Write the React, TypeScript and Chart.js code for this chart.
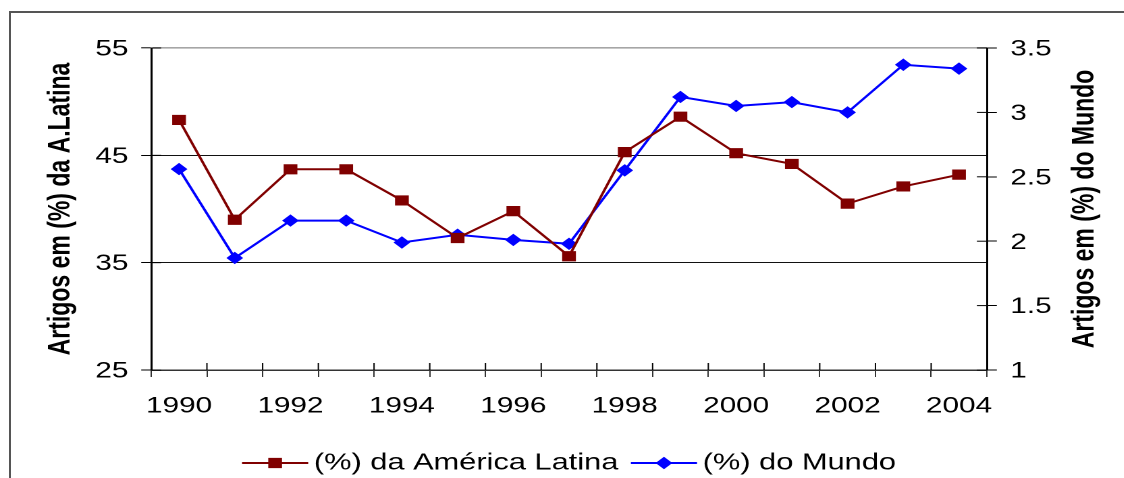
import React, { useEffect, useRef } from 'react';
import { Chart, registerables } from 'chart.js';

Chart.register(...registerables);

// ---- data ----
const years = ['1990', '1991', '1992', '1993', '1994', '1995', '1996', '1997', '1998', '1999', '2000', '2001', '2002', '2003', '2004'];
const latinAmericaShare = [48.3, 39.0, 43.7, 43.7, 40.8, 37.3, 39.8, 35.6, 45.3, 48.6, 45.2, 44.2, 40.5, 42.1, 43.2];
const worldShare = [2.56, 1.87, 2.16, 2.16, 1.99, 2.05, 2.01, 1.98, 2.55, 3.12, 3.05, 3.08, 3.0, 3.37, 3.34];
const leftAxisRange = [25, 55];
const leftAxisStep = 10;
const rightAxisRange = [1, 3.5];
const rightAxisStep = 0.5;
const leftAxisTitle = 'Artigos em (%) da A.Latina';
const rightAxisTitle = 'Artigos em (%) do Mundo';
const latinAmericaLabel = '(%) da América Latina';
const worldLabel = '(%) do Mundo';

// ---- styling ----
const SX = 1.35; // horizontal stretch of the original picture
const CANVAS_W = 833;
const CANVAS_H = 478;
const FONT = '"Liberation Sans", Arial, Helvetica, sans-serif';
const RED = '#800000';
const BLUE = '#0000FF';
const SQUARE_R = 6.5;
const DIAMOND_R = 5.5;
const Y_TICK = 7.4;
const X_TICK = 7;

function drawMarker(ctx: CanvasRenderingContext2D, style: string, x: number, y: number, color: string) {
  ctx.save();
  ctx.fillStyle = color;
  ctx.strokeStyle = color;
  ctx.lineWidth = 1;
  ctx.beginPath();
  if (style === 'rect') {
    const s = SQUARE_R * Math.SQRT1_2;
    ctx.rect(x - s, y - s, 2 * s, 2 * s);
  } else {
    const r = DIAMOND_R;
    ctx.moveTo(x - r, y);
    ctx.lineTo(x, y - r);
    ctx.lineTo(x + r, y);
    ctx.lineTo(x, y + r);
    ctx.closePath();
  }
  ctx.fill();
  ctx.stroke();
  ctx.restore();
}

const extrasPlugin = {
  id: 'extras',
  afterDraw(chart: any) {
    const { ctx, chartArea, scales } = chart;
    ctx.save();
    ctx.strokeStyle = '#000';
    ctx.lineWidth = 1;
    const line = (x1: number, y1: number, x2: number, y2: number) => {
      ctx.beginPath();
      ctx.moveTo(x1, y1);
      ctx.lineTo(x2, y2);
      ctx.stroke();
    };
    // inner halves of the crossing tick marks
    const xs = scales.x;
    for (let i = 0; i <= years.length; i++) {
      const px = xs.getPixelForValue(i - 0.5);
      line(px, chartArea.bottom - X_TICK, px, chartArea.bottom);
    }
    scales.y.ticks.forEach((t: any) => {
      const py = scales.y.getPixelForValue(t.value);
      line(chartArea.left, py, chartArea.left + Y_TICK, py);
    });
    scales.y1.ticks.forEach((t: any) => {
      const py = scales.y1.getPixelForValue(t.value);
      line(chartArea.right - Y_TICK, py, chartArea.right, py);
    });

    // right axis title, reading bottom to top
    ctx.fillStyle = '#000';
    ctx.font = `bold 23px ${FONT}`;
    ctx.textAlign = 'center';
    ctx.textBaseline = 'middle';
    ctx.save();
    ctx.translate(1085 / SX, (chartArea.top + chartArea.bottom) / 2);
    ctx.rotate(-Math.PI / 2);
    ctx.fillText(rightAxisTitle, 0, 0);
    ctx.restore();

    // legend: line + marker + text, centred under the plot area
    ctx.font = `22.8px ${FONT}`;
    ctx.textAlign = 'left';
    const lineLen = 49;
    const gapText = 4.2;
    const gapItem = 9.3;
    const items = chart.data.datasets.map((ds: any) => ({
      text: ds.label,
      color: ds.borderColor,
      style: ds.pointStyle,
      w: ctx.measureText(ds.label).width,
    }));
    const total = items.reduce((s: number, it: any) => s + lineLen + gapText + it.w, 0) + gapItem * (items.length - 1);
    let x = (chartArea.left + chartArea.right) / 2 - total / 2;
    const ly = 463;
    items.forEach((it: any) => {
      ctx.strokeStyle = it.color;
      ctx.lineWidth = 2;
      line(x, ly, x + lineLen, ly);
      drawMarker(ctx, it.style, x + lineLen / 2, ly, it.color);
      ctx.fillStyle = '#000';
      ctx.fillText(it.text, x + lineLen + gapText, ly);
      x += lineLen + gapText + it.w + gapItem;
    });
    ctx.restore();
  },
};

export default function App() {
  const canvasRef = useRef<HTMLCanvasElement | null>(null);

  useEffect(() => {
    if (!canvasRef.current) return;
    Chart.defaults.font.family = FONT;
    Chart.defaults.color = '#000';
    const chart = new Chart(canvasRef.current, {
      type: 'line',
      data: {
        labels: years,
        datasets: [
          {
            label: latinAmericaLabel,
            data: latinAmericaShare,
            yAxisID: 'y',
            borderColor: RED,
            backgroundColor: RED,
            borderWidth: 2,
            pointStyle: 'rect',
            pointRadius: SQUARE_R,
            pointBorderWidth: 1,
            pointBorderColor: RED,
            pointBackgroundColor: RED,
            tension: 0,
          },
          {
            label: worldLabel,
            data: worldShare,
            yAxisID: 'y1',
            borderColor: BLUE,
            backgroundColor: BLUE,
            borderWidth: 2,
            pointStyle: 'rectRot',
            pointRadius: DIAMOND_R,
            pointBorderWidth: 1,
            pointBorderColor: BLUE,
            pointBackgroundColor: BLUE,
            tension: 0,
          },
        ],
      },
      options: {
        animation: false,
        responsive: true,
        maintainAspectRatio: false,
        devicePixelRatio: 2,
        layout: { padding: { top: 48, left: 0, right: 0, bottom: 0 } },
        plugins: {
          legend: { display: false },
          tooltip: { enabled: false },
        },
        scales: {
          x: {
            type: 'category',
            offset: true,
            grid: {
              offset: true,
              drawOnChartArea: false,
              color: '#333',
              tickLength: X_TICK,
              lineWidth: 1,
            },
            border: { color: '#333', width: 1.5 },
            ticks: {
              autoSkip: false,
              maxRotation: 0,
              minRotation: 0,
              padding: 16,
              font: { size: 22 },
              color: '#000',
              callback: (_v: any, i: number) => (i % 2 === 0 ? years[i] : ''),
            },
            afterFit: (s: any) => {
              s.height = 108;
            },
          },
          y: {
            position: 'left',
            min: leftAxisRange[0],
            max: leftAxisRange[1],
            grid: {
              color: (c: any) => (c.tick && c.tick.value === leftAxisRange[1] ? '#a6a6a6' : c.tick && c.tick.value === leftAxisRange[0] ? 'rgba(0,0,0,0)' : '#111'),
              lineWidth: (c: any) => (c.tick && c.tick.value === leftAxisRange[1] ? 1.6 : 1),
              tickColor: '#000',
              tickWidth: 1,
              tickLength: Y_TICK,
            },
            border: { color: '#000', width: 1.5 },
            ticks: {
              stepSize: leftAxisStep,
              padding: 9.5,
              labelOffset: 1.5,
              font: { size: 22 },
              color: '#000',
            },
            title: {
              display: true,
              text: leftAxisTitle,
              color: '#000',
              font: { size: 23, weight: 'bold' },
              padding: { top: 31.4, bottom: 0 },
            },
            afterFit: (s: any) => {
              s.width = 112;
            },
          },
          y1: {
            position: 'right',
            min: rightAxisRange[0],
            max: rightAxisRange[1],
            grid: {
              drawOnChartArea: false,
              color: '#000',
              tickColor: '#000',
              tickWidth: 1,
              tickLength: Y_TICK,
            },
            border: { color: '#000', width: 1.5 },
            ticks: {
              stepSize: rightAxisStep,
              padding: 10,
              labelOffset: 1.5,
              font: { size: 22 },
              color: '#000',
              callback: (v: any) => String(v),
            },
            afterFit: (s: any) => {
              s.width = CANVAS_W - 731;
            },
          },
        },
      },
      plugins: [extrasPlugin],
    });
    return () => chart.destroy();
  }, []);

  return (
    <div style={{ position: 'fixed', left: 0, top: 0, width: 1124, height: 478, overflow: 'hidden', background: '#fff' }}>
      <div
        style={{
          position: 'absolute',
          left: 9,
          top: 11,
          width: 1124 - 9,
          height: 478 - 11,
          borderTop: '2px solid #555',
          borderLeft: '2px solid #555',
          boxSizing: 'border-box',
        }}
      />
      <div
        style={{
          position: 'absolute',
          left: 0,
          top: 0,
          width: CANVAS_W,
          height: CANVAS_H,
          transform: `scaleX(${SX})`,
          transformOrigin: '0 0',
        }}
      >
        <canvas ref={canvasRef} />
      </div>
    </div>
  );
}
